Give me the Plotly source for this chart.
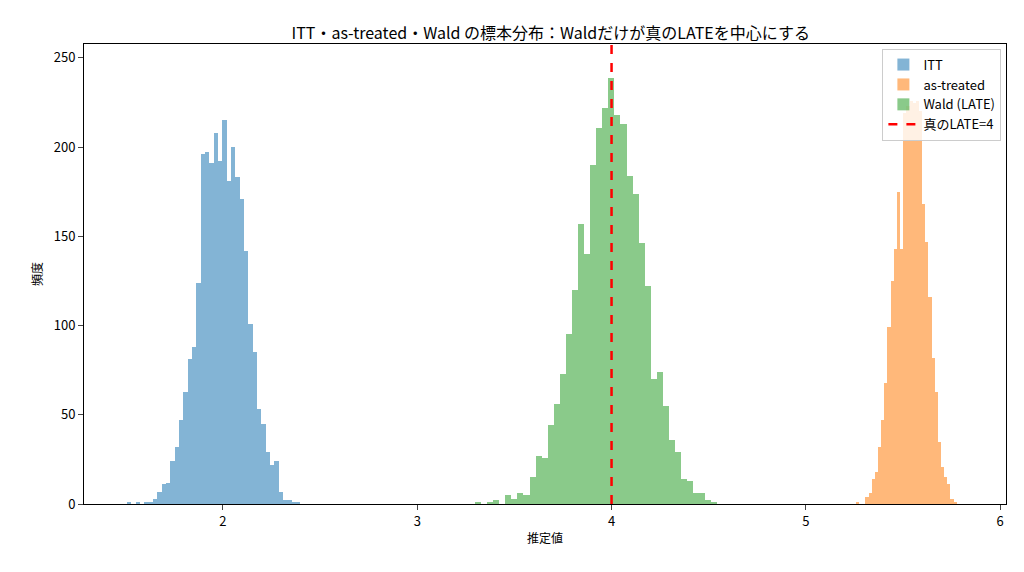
import plotly.graph_objects as go

# histogram bins: start, width, counts
itt_start, itt_width = 1.506, 0.0223
itt_counts = [1, 0, 1, 0, 1, 1, 3, 7, 11, 12, 24, 32, 47, 63, 81, 88, 124, 196, 197, 191,
              208, 192, 215, 181, 200, 183, 171, 142, 101, 85, 53, 45, 29, 22, 24, 7, 2, 2, 1, 1]

at_start, at_width = 5.258, 0.0162
at_counts = [1, 0, 0, 4, 6, 14, 18, 32, 47, 68, 99, 125, 143, 175, 143, 219, 223, 226, 225, 226,
             220, 168, 147, 116, 82, 63, 35, 21, 15, 11, 3, 1]

wald_start, wald_width = 3.297, 0.0312
wald_counts = [1, 0, 1, 2, 0, 5, 3, 6, 5, 15, 27, 26, 44, 56, 73, 95, 120, 157, 140, 190,
               211, 222, 239, 218, 213, 184, 174, 146, 122, 70, 74, 55, 36, 29, 14, 13, 6, 6, 2, 1]

true_late = 4

FONT = "Noto Sans CJK JP"


def hist_trace(start, width, counts, color, name):
    xs = [start + width * (i + 0.5) for i in range(len(counts))]
    return go.Bar(x=xs, y=counts, width=width, marker_color=color, marker_line_width=0,
                  opacity=0.55, name=name)


fig = go.Figure()
fig.add_trace(hist_trace(itt_start, itt_width, itt_counts, "#1f77b4", "ITT"))
fig.add_trace(hist_trace(at_start, at_width, at_counts, "#ff7f0e", "as-treated"))
fig.add_trace(hist_trace(wald_start, wald_width, wald_counts, "#2ca02c", "Wald (LATE)"))
fig.add_trace(go.Scatter(x=[true_late, true_late], y=[0, 258], mode="lines",
                         line=dict(color="red", width=2.5, dash="dash"), name="真のLATE=4"))

fig.update_layout(
    width=1024, height=572, barmode="overlay", bargap=0,
    plot_bgcolor="white", paper_bgcolor="white",
    font=dict(family=FONT, size=13, color="black"),
    margin=dict(l=76, r=26, t=36, b=76),
    title=dict(text="ITT・as-treated・Wald の標本分布：Waldだけが真のLATEを中心にする",
               x=0.53, xanchor="center", y=0.965, font=dict(size=16)),
    legend=dict(x=0.995, y=0.99, xanchor="right", yanchor="top", bgcolor="rgba(255,255,255,0.8)",
                bordercolor="#cccccc", borderwidth=1, font=dict(size=13)),
)
fig.update_xaxes(range=[1.285, 6.03], showgrid=False, zeroline=False, showline=True, mirror=True,
                 linecolor="black", ticks="outside", tickvals=[2, 3, 4, 5, 6],
                 title=dict(text="推定値", standoff=6, font=dict(size=12)))
fig.update_yaxes(range=[0, 257.8], showgrid=False, zeroline=False, showline=True, mirror=True,
                 linecolor="black", ticks="outside", tickvals=[0, 50, 100, 150, 200, 250],
                 title=dict(text="頻度", standoff=8, font=dict(size=12)))

fig.write_html("out.html")
